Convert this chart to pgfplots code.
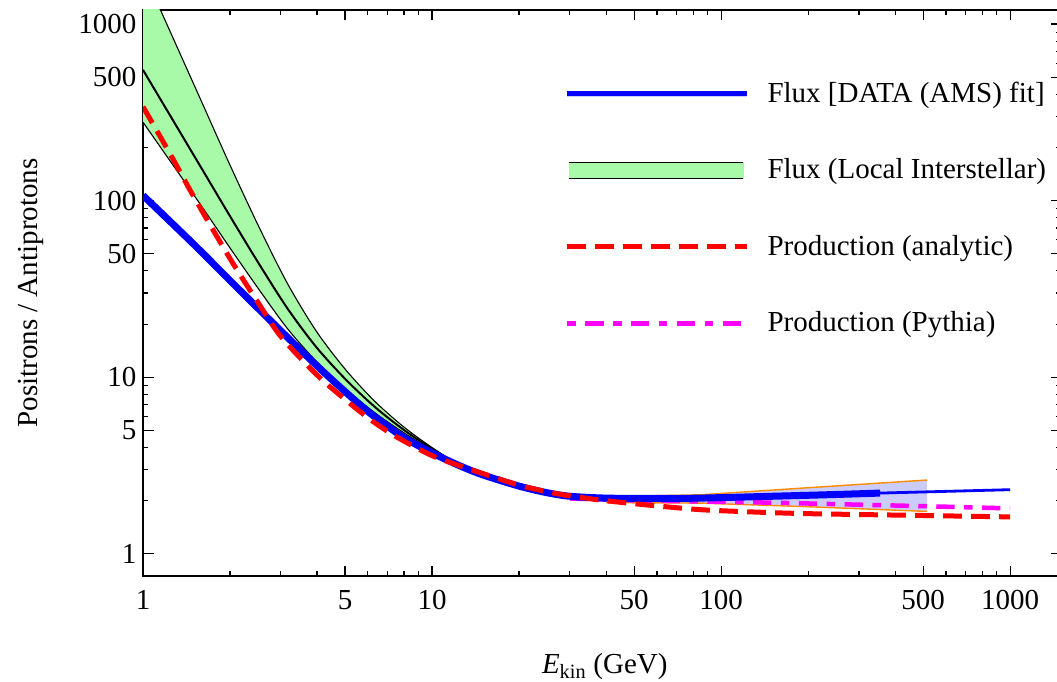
\documentclass[border=0pt]{standalone}
\usepackage{fontspec}
\setmainfont{Liberation Serif}
\usepackage{pgfplots}
\usepackage{pgfplotstable}
\pgfplotsset{compat=1.18}
\usepgfplotslibrary{fillbetween}
\definecolor{bandgreen}{RGB}{168,250,168}
\definecolor{lav}{RGB}{204,204,250}
\definecolor{orng}{RGB}{255,140,0}
\definecolor{mag}{RGB}{255,0,255}
\definecolor{bl}{RGB}{0,0,255}
\definecolor{rd}{RGB}{255,0,0}
\newcommand{\bigfont}{\fontsize{29}{34}\selectfont}

% Local interstellar flux band (lower, central, upper)
\pgfplotstableread{
E lo c up
1 278 549.5 1995
1.2589 162.2 291.7 861
1.5849 94.4 154.9 371.5
1.9953 54.3 82.2 160.3
2.5119 31.6 44.2 71.6
3.1623 18.84 24.5 33.9
3.9811 12.30 14.79 18.2
5.0119 8.61 9.77 11.09
6.3096 6.34 6.84 7.36
7.9433 4.88 5.07 5.27
10 3.88 3.94 4.00
12.589 3.16 3.16 3.16
15.849 2.69 2.69 2.69
19.953 2.40 2.40 2.40
25.119 2.21 2.21 2.21
31.623 2.11 2.11 2.11
}\lis

% AMS fit uncertainty band
\pgfplotstableread{
E lo up
40 1.95 2.11
84.6 1.94 2.16
200 1.85 2.37
516 1.74 2.62
}\bnd

% AMS fit (thick part)
\pgfplotstableread{
E v
1 107
1.5 56.5
2 35.3
3 18.3
4 11.6
5 8.3
6 6.4
7 5.3
8 4.55
10 3.73
12.5 3.15
15 2.8
20 2.42
25 2.22
30 2.12
40 2.07
60 2.06
85 2.07
150 2.12
250 2.17
355 2.21
}\blu

% AMS fit (thin part)
\pgfplotstableread{
E v
355 2.21
1000 2.31
}\bluthin

% Production (analytic)
\pgfplotstableread{
E v
1 340
1.25 180
1.5 105
2 47
2.5 26.5
3 17
4 10.3
5 7.5
6 5.9
7 4.95
8 4.35
10 3.6
12.5 3.15
15 2.85
20 2.45
25 2.25
30 2.13
40 2.0
60 1.87
85 1.78
126 1.73
200 1.69
500 1.65
1000 1.62
}\red

% Production (Pythia)
\pgfplotstableread{
E v
30 2.06
50 2.01
85 1.98
150 1.95
300 1.90
600 1.85
1000 1.81
}\pyt

\begin{document}
\begin{tikzpicture}
\begin{axis}[
  at={(143pt,106pt)}, anchor=south west, scale only axis,
  width=918pt, height=566pt,
  xmode=log, ymode=log,
  xmin=1, xmax=1500, ymin=0.75, ymax=1200,
  xtick={1,5,10,50,100,500,1000}, xticklabels={1,5,10,50,100,500,1000},
  ytick={1,5,10,50,100,500,1000}, yticklabels={1,5,10,50,100,500,1000},
  minor xtick={2,3,4,6,7,8,9,20,30,40,60,70,80,90,200,300,400,600,700,800,900},
  minor ytick={2,3,4,6,7,8,9,20,30,40,60,70,80,90,200,300,400,600,700,800,900},
  tick align=inside, major tick length=10.5pt, minor tick length=5pt,
  every tick/.append style={line width=1.1pt, black},
  axis line style={line width=1.3pt},
  tick label style={font=\bigfont},
  xticklabel style={yshift=-11pt},
  yticklabel style={xshift=-3pt},
  xlabel={\textit{E}\textsubscript{kin} (GeV)},
  ylabel={Positrons / Antiprotons},
  label style={font=\bigfont},
  xlabel style={at={(axis description cs:0.503,-0.1714)}, anchor=base, inner sep=1pt},
  ylabel style={at={(axis description cs:-0.1150,0.5)}, anchor=base},
  legend cell align=left,
  legend style={draw=none, fill=none, inner sep=0pt, outer sep=0pt,
    at={(0.4586,0.8737)}, anchor=north west, row sep=51.5pt, column sep=17pt,
    font=\bigfont, nodes={inner sep=0pt, text height=21pt, text depth=4pt}},
  legend image code/.code={\draw[#1] (0pt,0pt) -- (180pt,0pt);},
]
% green band
\addplot[draw=none, name path=gup, forget plot, smooth] table[x=E,y=up]{\lis};
\addplot[draw=none, name path=glo, forget plot, smooth] table[x=E,y=lo]{\lis};
\addplot[bandgreen, forget plot] fill between[of=gup and glo];
\addplot[black, line width=1.1pt, smooth, forget plot] table[x=E,y=up]{\lis};
\addplot[black, line width=1.1pt, smooth, forget plot] table[x=E,y=lo]{\lis};
\addplot[black, line width=2pt, smooth, forget plot] table[x=E,y=c]{\lis};
% lavender band
\addplot[draw=none, name path=bup, forget plot] table[x=E,y=up]{\bnd};
\addplot[draw=none, name path=blo, forget plot] table[x=E,y=lo]{\bnd};
\addplot[lav, forget plot] fill between[of=bup and blo];
\addplot[orng, line width=1.4pt, forget plot] table[x=E,y=up]{\bnd};
\addplot[orng, line width=1.4pt, forget plot] table[x=E,y=lo]{\bnd};
% pythia
\addplot[mag, line width=4.5pt, smooth, dash pattern=on 18.3pt off 9.5pt on 8.5pt off 9.5pt, forget plot] table[x=E,y=v]{\pyt};
% AMS fit
\addplot[bl, line width=2.8pt, forget plot] table[x=E,y=v]{\bluthin};
\addplot[bl, line width=7pt, smooth, forget plot] table[x=E,y=v]{\blu};
% analytic
\addplot[rd, line width=5pt, smooth, dash pattern=on 18.7pt off 9.3pt, forget plot] table[x=E,y=v]{\red};

\addlegendimage{legend image code/.code={\draw[lav,line width=6.5pt] (0pt,0pt)--(180pt,0pt); \draw[bl,line width=5pt] (0pt,0pt)--(180pt,0pt);}}
\addlegendentry{Flux [DATA (AMS) fit]}
\addlegendimage{legend image code/.code={\fill[bandgreen] (2pt,-8pt) rectangle (176pt,8pt); \draw[black,line width=1pt] (2pt,8pt)--(176pt,8pt) (2pt,-8pt)--(176pt,-8pt);}}
\addlegendentry{Flux (Local Interstellar)}
\addlegendimage{rd, line width=5pt, dash pattern=on 18.7pt off 9.3pt}
\addlegendentry{Production (analytic)}
\addlegendimage{mag, line width=4.5pt, dash pattern=on 8.5pt off 9.5pt on 18.3pt off 9.5pt}
\addlegendentry{Production (Pythia)}
\end{axis}
\pgfresetboundingbox
\path[use as bounding box] (0,0) rectangle (1057pt,682pt);
\end{tikzpicture}
\end{document}
